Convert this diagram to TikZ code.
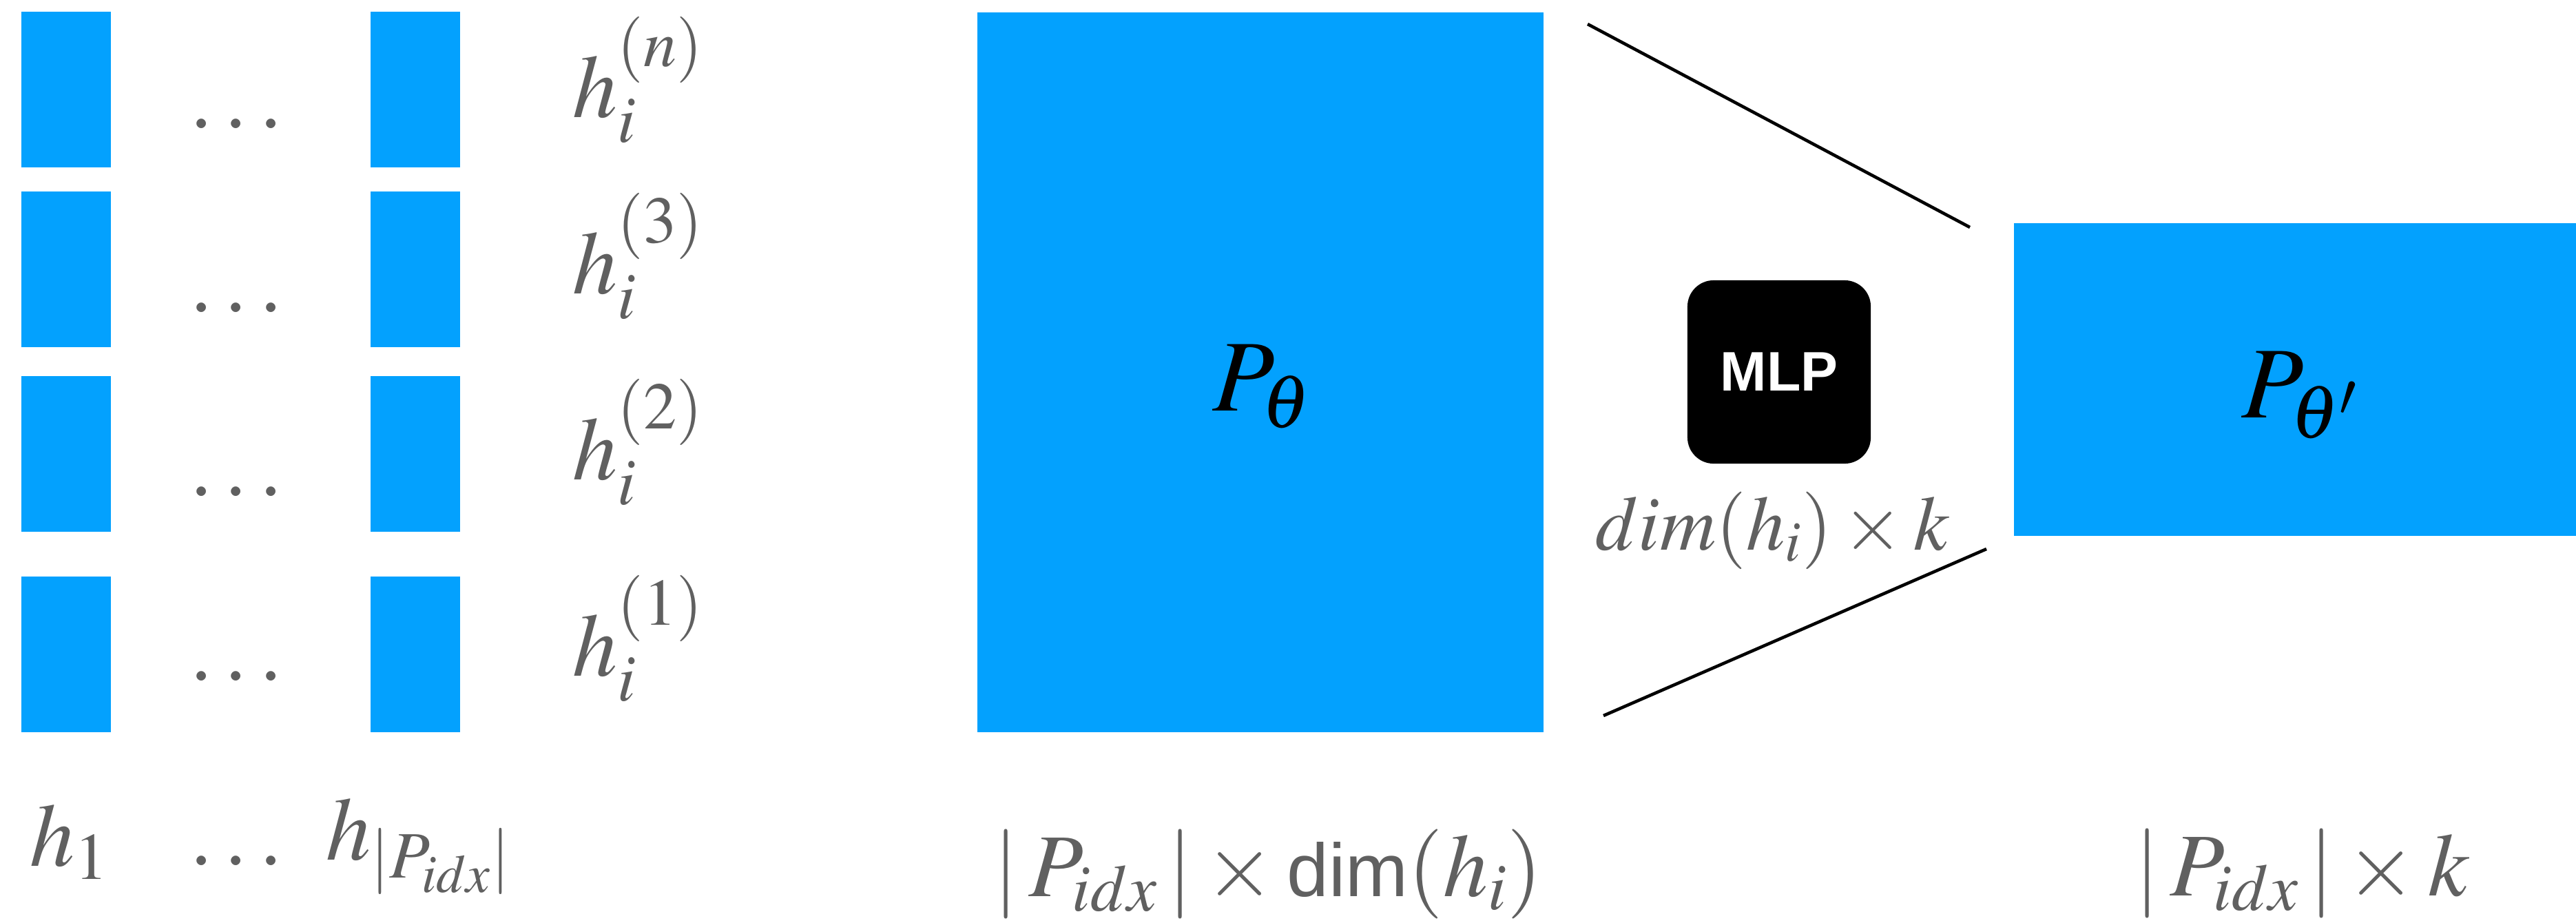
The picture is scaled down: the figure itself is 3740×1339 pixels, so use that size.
\documentclass[tikz,border=0pt]{standalone}
\usepackage{mathptmx}
\usepackage[no-math]{fontspec}
\newfontfamily\mlpfont{Liberation Sans}

\definecolor{cellblue}{RGB}{3,161,254}
\definecolor{labelgrey}{RGB}{96,96,96}

\tikzset{
  cell/.style={fill=cellblue, inner sep=0pt, minimum width=1.3cm, minimum height=2.25cm},
  lbl/.style={text=labelgrey, inner sep=0pt, font=\fontsize{37}{40}\selectfont},
  biglbl/.style={text=black, inner sep=0pt, font=\fontsize{42}{46}\selectfont},
}

\begin{document}
\begin{tikzpicture}[x=0.01cm, y=-0.01cm]
  \useasboundingbox (0,0) rectangle (3740,1339);

  % Hidden states, one row per layer
  \foreach \yc/\lay/\ydot/\ybase in {130/n/186/170, 391/3/453/426, 659/2/720/696, 950/1/988/981} {
    \node[cell] (first-\lay) at (96,\yc) {};
    \node[cell] (last-\lay) at (603,\yc) {};
    \node[lbl, anchor=base] (dots-\lay) at (343,\ydot) {$\ldots$};
    \node[lbl, anchor=base west] (layer-\lay) at (831,\ybase)
      {$h_{i}^{\raisebox{0.2em}{$\scriptstyle(\lay)$}}$};
  }

  % Bottom labels of the columns
  \node[lbl, anchor=base west] (h-first) at (43,1257) {$h_1$};
  \node[lbl, anchor=base] (h-dots) at (343,1256) {$\ldots$};
  \node[lbl, anchor=base west] (h-last) at (473,1248) {$h_{|P_{idx}|}$};

  % Prompt P_theta
  \node[fill=cellblue, inner sep=0pt, minimum width=8.22cm, minimum height=10.45cm] (ptheta) at (1830,540.5) {};
  \node[biglbl, anchor=base west] (ptheta-lbl) at (1760,596) {$P_\theta$};
  \node[lbl, anchor=base west] (ptheta-dim) at (1442,1301)
    {$|\,P_{idx}\,| \times \mbox{\mlpfont\fontsize{31}{31}\selectfont dim}(h_i)$};

  % MLP
  \node[fill=black, rounded corners=0.38cm, minimum size=2.66cm, inner sep=0pt,
        text=white, font=\mlpfont\bfseries\fontsize{23}{23}\selectfont] (mlp) at (2583,540) {MLP};
  \node[lbl, font=\fontsize{32}{34}\selectfont, anchor=base west] (mlp-dim) at (2316,798) {$dim(h_i) \times k$};

  % Prompt P_theta'
  \node[fill=cellblue, inner sep=0pt, minimum width=8.16cm, minimum height=4.54cm] (pnew) at (3332,551) {};
  \node[biglbl, anchor=base west] (pnew-lbl) at (3254,606) {$P_{\theta'}$};
  \node[lbl, anchor=base west] (pnew-dim) at (3099,1300) {$|\,P_{idx}\,| \times k$};

  % Funnel lines
  \coordinate (up-a) at (2305,35);
  \coordinate (up-b) at (2860,330);
  \coordinate (lo-a) at (2328,1039);
  \coordinate (lo-b) at (2884,797);
  \draw[line width=1.3pt] (up-a) -- (up-b);
  \draw[line width=1.3pt] (lo-a) -- (lo-b);
\end{tikzpicture}
\end{document}
